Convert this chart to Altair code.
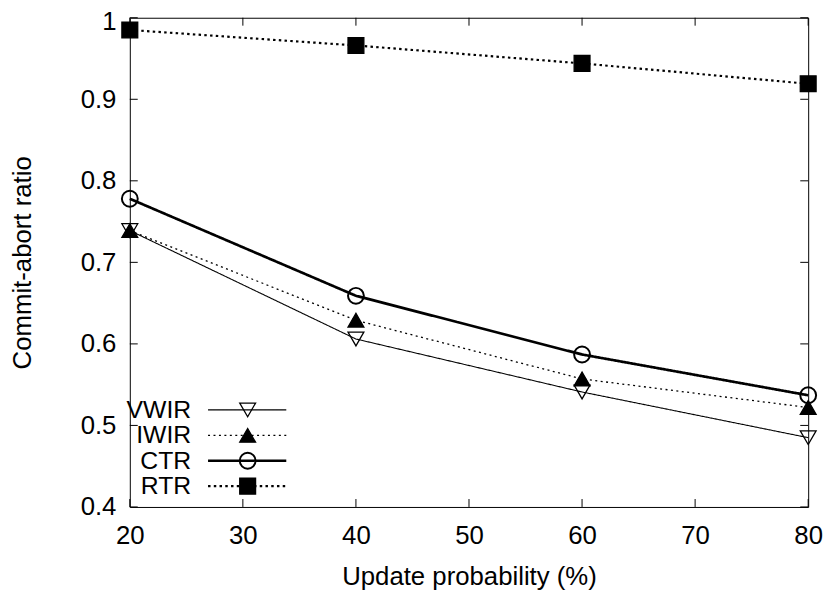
import altair as alt
import pandas as pd

# ---- data ----
x_vals = [20, 40, 60, 80]
series = ["VWIR", "IWIR", "CTR", "RTR"]
vwir = [0.739, 0.606, 0.541, 0.485]
iwir = [0.739, 0.629, 0.557, 0.522]
ctr = [0.778, 0.659, 0.587, 0.537]
rtr = [0.985, 0.966, 0.944, 0.919]
x_ticks = [20, 30, 40, 50, 60, 70, 80]
y_ticks = [0.4, 0.5, 0.6, 0.7, 0.8, 0.9, 1.0]

rows = []
for name, vals in zip(series, [vwir, iwir, ctr, rtr]):
    for xv, yv in zip(x_vals, vals):
        rows.append({"series": name, "x": xv, "y": yv})
df = pd.DataFrame(rows)
legend_df = pd.DataFrame({"series": series})

# ---- styles (gnuplot-like) ----
STYLE = {
    "VWIR": dict(dash=[1, 0], width=1.1, shape="triangle-down", fill="transparent", mw=1.3),
    "IWIR": dict(dash=[2, 3.5], width=1.3, shape="triangle-up", fill="black", mw=1.3),
    "CTR": dict(dash=[1, 0], width=2.7, shape="circle", fill="transparent", mw=2.0),
    "RTR": dict(dash=[2.5, 3.3], width=2.2, shape="square", fill="black", mw=1.3),
}

W, H = 685, 494
TICK = 8
FONT = "Liberation Sans"

xscale = alt.Scale(domain=[20, 80], nice=False, zero=False)
yscale = alt.Scale(domain=[0.4, 1.0], nice=False, zero=False)

xaxis = alt.Axis(values=x_ticks, title="Update probability (%)",
                 ticks=False, tickSize=0, domain=False, grid=False, labelFlush=False,
                 labelPadding=16, titlePadding=15)
yaxis = alt.Axis(values=y_ticks, format="~g", title="Commit-abort ratio",
                 ticks=False, tickSize=0, domain=False, grid=False, labelFlush=False,
                 labelPadding=14, titlePadding=45,
                 labelOffset=alt.condition("datum.value >= 1", alt.value(4), alt.value(0)))

X = lambda f: alt.X(f, scale=xscale, axis=xaxis)
Y = lambda f: alt.Y(f, scale=yscale, axis=yaxis)

base = alt.Chart(df)

tx = alt.Chart(pd.DataFrame({"v": x_ticks}))
ty = alt.Chart(pd.DataFrame({"v": y_ticks}))
layers = [
    tx.mark_rule(color="black", strokeWidth=1).encode(
        x=X("v:Q"), y=alt.value(H), y2=alt.value(H - TICK)),
    tx.mark_rule(color="black", strokeWidth=1).encode(
        x=X("v:Q"), y=alt.value(0), y2=alt.value(TICK)),
    ty.mark_rule(color="black", strokeWidth=1).encode(
        y=Y("v:Q"), x=alt.value(0), x2=alt.value(TICK)),
    ty.mark_rule(color="black", strokeWidth=1).encode(
        y=Y("v:Q"), x=alt.value(W), x2=alt.value(W - TICK)),
]

for s in series:
    st = STYLE[s]
    sub = base.transform_filter(alt.datum.series == s)
    layers.append(sub.mark_line(color="black", strokeWidth=st["width"],
                                strokeDash=st["dash"]).encode(x=X("x:Q"), y=Y("y:Q")))
for s in series:
    st = STYLE[s]
    sub = base.transform_filter(alt.datum.series == s)
    layers.append(sub.mark_point(shape=st["shape"], size=256, opacity=1, stroke="black",
                                 strokeWidth=st["mw"], fill=st["fill"]).encode(
        x=X("x:Q"), y=Y("y:Q")))

main = alt.layer(*layers)

# ---- gnuplot-style key: label, line sample, marker ----
leg_y = alt.Y("series:N", scale=alt.Scale(type="point", domain=series,
                                          range=[396, 473], padding=0), axis=None)
lbase = alt.Chart(legend_df)
key_layers = [
    lbase.mark_text(align="right", baseline="middle", font=FONT,
                    fontSize=25, color="black").encode(
        y=leg_y, x=alt.value(62), text="series:N")
]
for s in series:
    st = STYLE[s]
    sub = lbase.transform_filter(alt.datum.series == s)
    key_layers.append(sub.mark_rule(color="black", strokeWidth=st["width"],
                                    strokeDash=st["dash"]).encode(
        y=leg_y, x=alt.value(79), x2=alt.value(158)))
    key_layers.append(sub.mark_point(shape=st["shape"], size=256, opacity=1, stroke="black",
                                     strokeWidth=st["mw"], fill=st["fill"]).encode(
        y=leg_y, x=alt.value(119)))
key = alt.layer(*key_layers)

chart = alt.layer(main, key).resolve_scale(y="independent").properties(
    width=W, height=H,
    autosize=alt.AutoSizeParams(type="none"),
    padding={"left": 123, "top": 7, "right": 19, "bottom": 81},
).configure_view(
    stroke="black", strokeWidth=1,
).configure_axis(
    labelFont=FONT, titleFont=FONT, labelFontSize=26, titleFontSize=26,
    labelColor="black", titleColor="black", titleFontWeight="normal",
)

chart.save("out.html", embed_options={"renderer": "svg", "actions": False})
